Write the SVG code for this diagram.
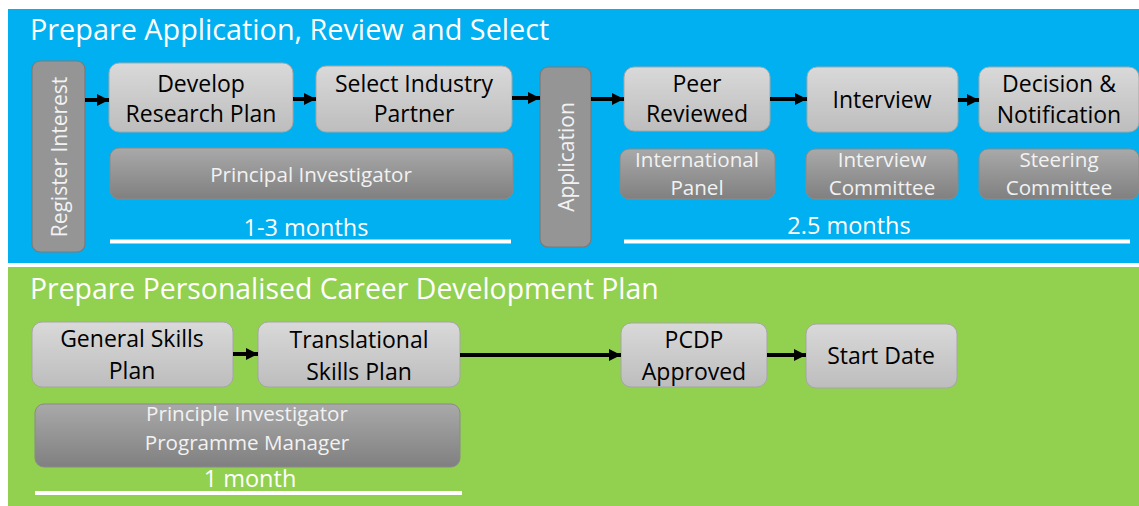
<svg xmlns="http://www.w3.org/2000/svg" width="1139" height="506" viewBox="0 0 1139 506">
<defs>
<linearGradient id="gl" x1="0" y1="0" x2="0" y2="1"><stop offset="0" stop-color="#d9d9d9"/><stop offset="1" stop-color="#bdbdbd"/></linearGradient>
<linearGradient id="gd" x1="0" y1="0" x2="0" y2="1"><stop offset="0" stop-color="#a9a9a9"/><stop offset="1" stop-color="#808080"/></linearGradient>
<marker id="ah" viewBox="0 0 10 10" refX="10" refY="5" markerWidth="3.4" markerHeight="3" orient="auto" markerUnits="strokeWidth"><path d="M0,0 L10,5 L0,10 Z" fill="#000"/></marker>
<style>
.t{font-family:"Open Sans","Noto Sans","Liberation Sans",sans-serif;}
.title{font-size:28.8px;fill:#fff;}
.title2{font-size:28.4px;fill:#fff;}
.lb{fill:url(#gl);stroke:#a6a6a6;stroke-width:1;}
.db{fill:url(#gd);stroke:#8a8a8a;stroke-width:1;}
.vb{fill:#959595;stroke:#7a7a7a;stroke-width:1.2;}
.nt{font-size:23px;fill:#000;text-anchor:middle;}
.wt{font-size:20.6px;fill:#f2f2f2;text-anchor:middle;}
.vt{font-size:21px;fill:#f2f2f2;text-anchor:middle;}
.dur{font-size:23.5px;fill:#fff;text-anchor:middle;}
.rule{stroke:#fff;stroke-width:4;}
.c{stroke:#000;stroke-width:4;fill:none;marker-end:url(#ah);}
</style>
</defs>
<rect x="8" y="9" width="1131" height="254" fill="#00b0f0"/>
<rect x="8" y="267" width="1131" height="239" fill="#92d050"/>
<text class="t title" x="30" y="40">Prepare Application, Review and Select</text>
<text class="t title2" x="30" y="299">Prepare Personalised Career Development Plan</text>

<g id="register-interest"><rect class="vb" x="32" y="61" width="53" height="191" rx="8"/><text class="t vt" transform="translate(67,157) rotate(-90)">Register Interest</text></g>
<g id="develop-research-plan"><rect class="lb" x="109" y="63" width="184" height="69" rx="10"/><text class="t nt" x="201" y="92">Develop</text><text class="t nt" x="201" y="122">Research Plan</text></g>
<g id="select-industry-partner"><rect class="lb" x="316" y="66" width="196" height="66" rx="10"/><text class="t nt" x="414" y="92">Select Industry</text><text class="t nt" x="414" y="122">Partner</text></g>
<g id="principal-investigator"><rect class="db" x="110" y="148" width="403" height="51" rx="9"/><text class="t wt" x="311" y="182">Principal Investigator</text></g>
<g id="duration-1-3"><text class="t dur" x="306" y="236">1-3 months</text><line class="rule" x1="110" y1="241.5" x2="511" y2="241.5"/></g>
<g id="application"><rect class="vb" x="540" y="67" width="51" height="180" rx="8"/><text class="t vt" transform="translate(574,157) rotate(-90)">Application</text></g>
<g id="peer-reviewed"><rect class="lb" x="624" y="67" width="146" height="64" rx="10"/><text class="t nt" x="697" y="92">Peer</text><text class="t nt" x="697" y="122">Reviewed</text></g>
<g id="interview"><rect class="lb" x="807" y="67" width="151" height="65" rx="10"/><text class="t nt" x="882" y="108">Interview</text></g>
<g id="decision-notification"><rect class="lb" x="979" y="67" width="160" height="65" rx="10"/><text class="t nt" x="1059" y="92">Decision &amp;</text><text class="t nt" x="1059" y="123">Notification</text></g>
<g id="international-panel"><rect class="db" x="620" y="149" width="155" height="50" rx="9"/><text class="t wt" x="697" y="167">International</text><text class="t wt" x="697" y="195">Panel</text></g>
<g id="interview-committee"><rect class="db" x="806" y="149" width="152" height="50" rx="9"/><text class="t wt" x="882" y="167">Interview</text><text class="t wt" x="882" y="195">Committee</text></g>
<g id="steering-committee"><rect class="db" x="979" y="149" width="160" height="50" rx="9"/><text class="t wt" x="1059" y="167">Steering</text><text class="t wt" x="1059" y="195">Committee</text></g>
<g id="duration-2-5"><text class="t dur" x="849" y="234">2.5 months</text><line class="rule" x1="624" y1="241.5" x2="1130" y2="241.5"/></g>

<g id="general-skills-plan"><rect class="lb" x="32" y="322" width="201" height="65" rx="10"/><text class="t nt" x="132" y="347">General Skills</text><text class="t nt" x="132" y="379">Plan</text></g>
<g id="translational-skills-plan"><rect class="lb" x="258" y="322" width="202" height="65" rx="10"/><text class="t nt" x="359" y="348">Translational</text><text class="t nt" x="359" y="380">Skills Plan</text></g>
<g id="pi-programme-manager"><rect class="db" x="35" y="404" width="425" height="63" rx="9"/><text class="t wt" x="247" y="421">Principle Investigator</text><text class="t wt" x="247" y="450">Programme Manager</text></g>
<g id="duration-1"><text class="t dur" x="250" y="487">1 month</text><line class="rule" x1="35" y1="493" x2="462" y2="493"/></g>
<g id="pcdp-approved"><rect class="lb" x="621" y="323" width="146" height="64" rx="10"/><text class="t nt" x="694" y="348">PCDP</text><text class="t nt" x="694" y="380">Approved</text></g>
<g id="start-date"><rect class="lb" x="806" y="324" width="151" height="64" rx="10"/><text class="t nt" x="881" y="364">Start Date</text></g>

<g id="connectors">
<line class="c" x1="85" y1="100" x2="109" y2="100"/>
<line class="c" x1="293" y1="99" x2="316" y2="99"/>
<line class="c" x1="512" y1="98" x2="540" y2="98"/>
<line class="c" x1="591" y1="99" x2="624" y2="99"/>
<line class="c" x1="770" y1="99" x2="807" y2="99"/>
<line class="c" x1="958" y1="100" x2="979" y2="100"/>
<line class="c" x1="233" y1="354" x2="258" y2="354"/>
<line class="c" x1="460" y1="355" x2="621" y2="355"/>
<line class="c" x1="767" y1="355" x2="806" y2="355"/>
</g>
</svg>
